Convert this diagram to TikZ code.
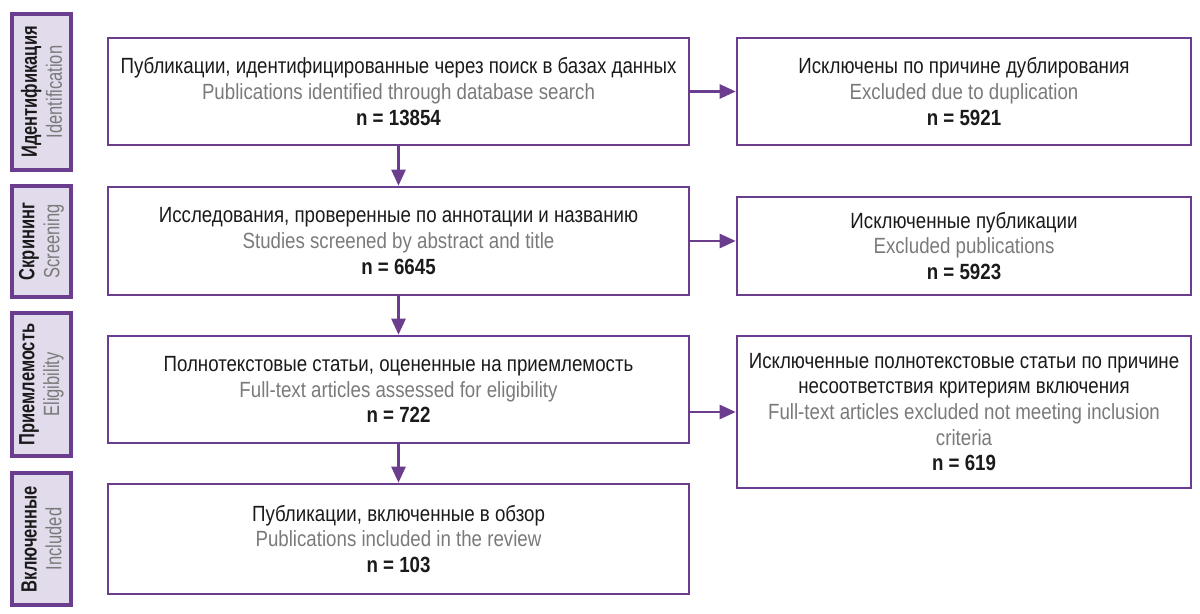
\documentclass[tikz,border=0pt]{standalone}
\usepackage{fontspec}
\setmainfont{Liberation Sans}[FakeStretch=0.85]
\newfontfamily\sidefont{Liberation Sans}[FakeStretch=0.75]
\usetikzlibrary{arrows.meta}
\definecolor{pur}{HTML}{6B3D8E}
\definecolor{lav}{HTML}{E2DBEB}
\definecolor{gr}{HTML}{7A7A7A}
\definecolor{tx}{HTML}{1A1A1A}
\begin{document}
\begin{tikzpicture}[x=0.5pt,y=-0.5pt,
  box/.style={draw=pur,line width=1.3pt,align=center,inner sep=0pt,
    font=\fontsize{11}{12.8}\selectfont,text=tx},
  side/.style={draw=pur,fill=lav,line width=1.6pt,align=center,inner sep=0pt,rotate=90,
    minimum height=29.5pt,font=\sidefont\fontsize{11}{12.4}\selectfont,text=tx},
  arr/.style={draw=pur,line width=1.3pt,-{Triangle[length=8pt,width=7pt]}}]
\useasboundingbox (0,0) rectangle (1200,614);
\newcommand{\eng}[1]{\textcolor{gr}{#1}}
% side labels
\node[side,minimum width=78pt] (s1) at (41.5,92) {\textbf{Идентификация}\\\eng{Identification}};
\node[side,minimum width=55.5pt] (s2) at (41.5,241.5) {\textbf{Скрининг}\\\eng{Screening}};
\node[side,minimum width=71.5pt] (s3) at (41.5,384.5) {\textbf{Приемлемость}\\\eng{Eligibility}};
\node[side,minimum width=66pt] (s4) at (41.5,539) {\textbf{Включенные}\\\eng{Included}};
% main boxes
\node[box,minimum width=290.5pt,minimum height=53.5pt] (A) at (398.5,91.5)
  {Публикации, идентифицированные через поиск в базах данных\\\eng{Publications identified through database search}\\\textbf{n = 13854}};
\node[box,minimum width=290.5pt,minimum height=54pt] (B) at (398.5,241)
  {Исследования, проверенные по аннотации и названию\\\eng{Studies screened by abstract and title}\\\textbf{n = 6645}};
\node[box,minimum width=290.5pt,minimum height=53.5pt] (C) at (398.5,389.5)
  {Полнотекстовые статьи, оцененные на приемлемость\\\eng{Full-text articles assessed for eligibility}\\\textbf{n = 722}};
\node[box,minimum width=290.5pt,minimum height=55pt] (D) at (398.5,539)
  {Публикации, включенные в обзор\\\eng{Publications included in the review}\\\textbf{n = 103}};
% right boxes
\node[box,minimum width=227pt,minimum height=53.5pt] (RA) at (964,91.5)
  {Исключены по причине дублирования\\\eng{Excluded due to duplication}\\\textbf{n = 5921}};
\node[box,minimum width=227pt,minimum height=49pt] (RB) at (964,246)
  {Исключенные публикации\\\eng{Excluded publications}\\\textbf{n = 5923}};
\node[box,minimum width=227pt,minimum height=76pt] (RC) at (964,412)
  {Исключенные полнотекстовые статьи по причине\\несоответствия критериям включения\\\eng{Full-text articles excluded not meeting inclusion}\\\eng{criteria}\\\textbf{n = 619}};
% arrows
\draw[arr] (A.south) -- (B.north);
\draw[arr] (B.south) -- (C.north);
\draw[arr] (C.south) -- (D.north);
\draw[arr] (A.east) -- (RA.west);
\draw[arr] (B.east) -- (B.east -| RB.west);
\draw[arr] (C.east |- RC.west) -- (RC.west);
\end{tikzpicture}
\end{document}
